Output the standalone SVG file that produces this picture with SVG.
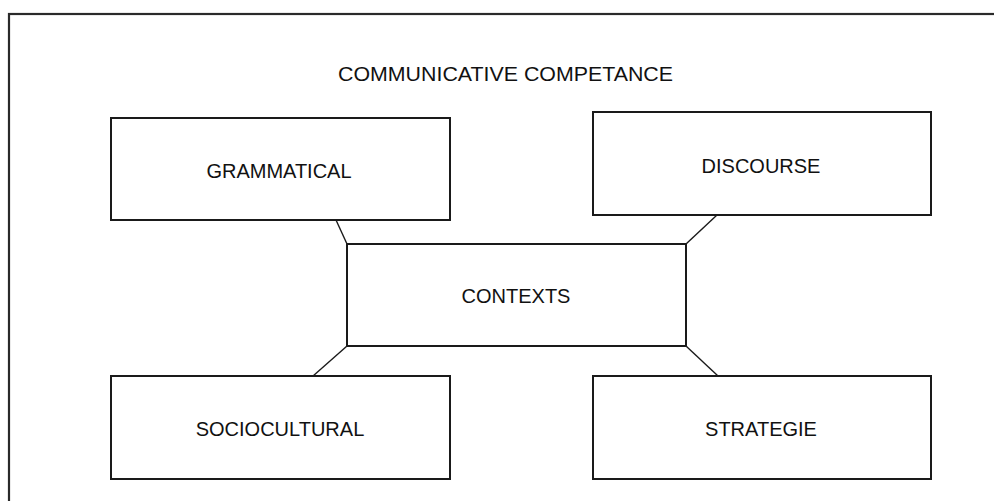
<svg xmlns="http://www.w3.org/2000/svg" width="994" height="501" viewBox="0 0 994 501">
<style>
.box{fill:#fff;stroke:#1a1a1a;stroke-width:2}
.lbl{font-family:"Liberation Sans",Arial,sans-serif;font-size:20px;fill:#111;text-anchor:middle}
.con{stroke:#1a1a1a;stroke-width:1.4;fill:none}
</style>
<rect x="0" y="0" width="994" height="501" fill="#fff"/>
<rect id="frame" x="9" y="14" width="1000" height="520" fill="none" stroke="#2a2a2a" stroke-width="2.2"/>
<text class="lbl" x="505.5" y="81" font-size="18" textLength="335" lengthAdjust="spacingAndGlyphs">COMMUNICATIVE COMPETANCE</text>
<g id="connectors">
<line class="con" x1="336" y1="220" x2="347" y2="244"/>
<line class="con" x1="717" y1="215" x2="686" y2="244"/>
<line class="con" x1="347" y1="346" x2="313" y2="376"/>
<line class="con" x1="686" y1="346" x2="718" y2="376"/>
</g>
<g id="grammatical">
<rect class="box" x="111" y="118" width="339" height="102"/>
<text class="lbl" x="279" y="178">GRAMMATICAL</text>
</g>
<g id="discourse">
<rect class="box" x="593" y="112" width="338" height="103"/>
<text class="lbl" x="761" y="173">DISCOURSE</text>
</g>
<g id="contexts">
<rect class="box" x="347" y="244" width="339" height="102"/>
<text class="lbl" x="516" y="303">CONTEXTS</text>
</g>
<g id="sociocultural">
<rect class="box" x="111" y="376" width="339" height="103"/>
<text class="lbl" x="280" y="436">SOCIOCULTURAL</text>
</g>
<g id="strategie">
<rect class="box" x="593" y="376" width="338" height="103"/>
<text class="lbl" x="761" y="436">STRATEGIE</text>
</g>
</svg>
